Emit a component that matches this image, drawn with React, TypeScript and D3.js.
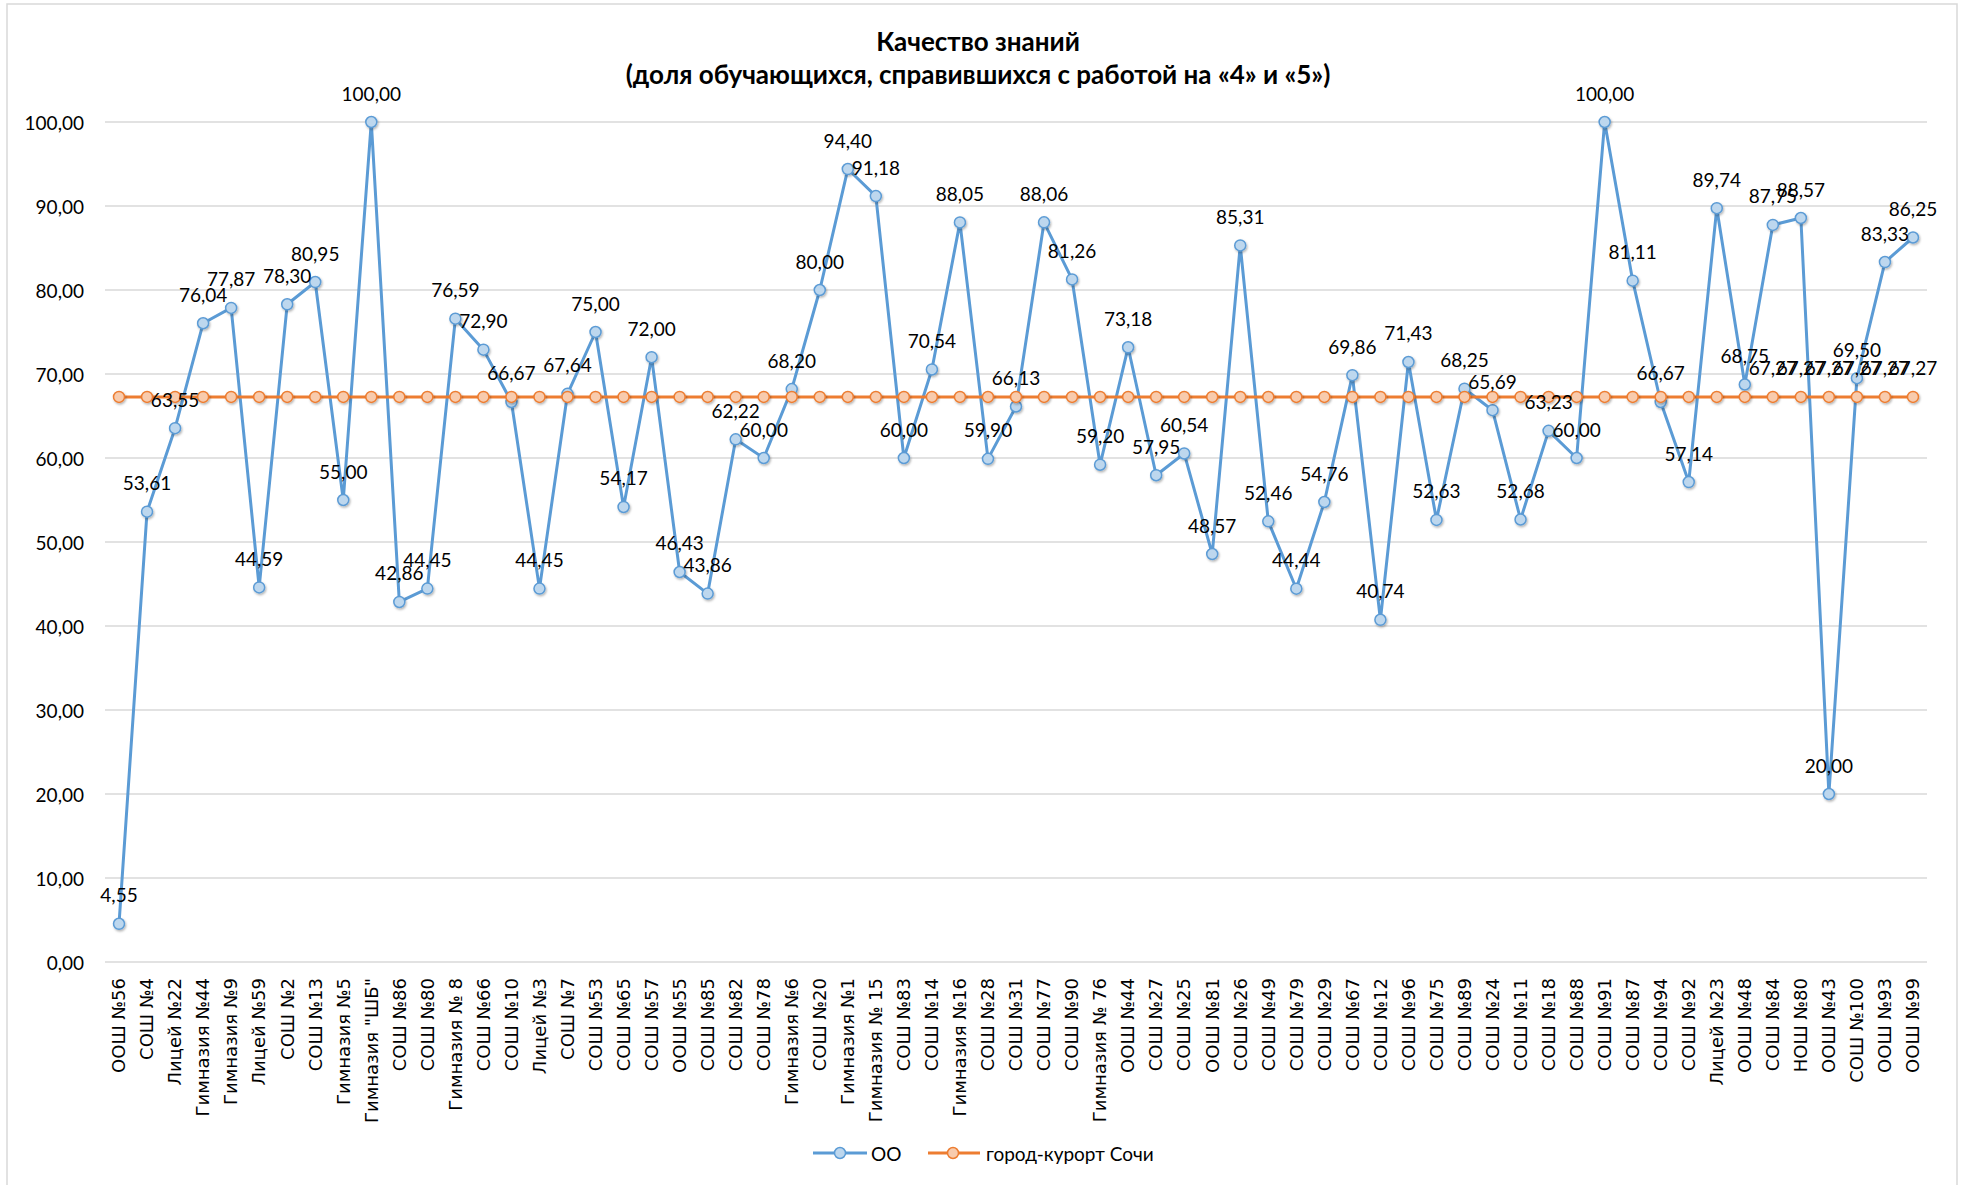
import React from "react";
import * as d3 from "d3";

const categories: string[] = [
  "ООШ №56", "СОШ №4", "Лицей №22", "Гимназия №44", "Гимназия №9", "Лицей №59", "СОШ №2", "СОШ №13",
  "Гимназия №5", "Гимназия \"ШБ\"", "СОШ №86", "СОШ №80", "Гимназия № 8", "СОШ №66", "СОШ №10", "Лицей №3",
  "СОШ №7", "СОШ №53", "СОШ №65", "СОШ №57", "ООШ №55", "СОШ №85", "СОШ №82", "СОШ №78",
  "Гимназия №6", "СОШ №20", "Гимназия №1", "Гимназия № 15", "СОШ №83", "СОШ №14", "Гимназия №16", "СОШ №28",
  "СОШ №31", "СОШ №77", "СОШ №90", "Гимназия № 76", "ООШ №44", "СОШ №27", "СОШ №25", "ООШ №81",
  "СОШ №26", "СОШ №49", "СОШ №79", "СОШ №29", "СОШ №67", "СОШ №12", "СОШ №96", "СОШ №75",
  "СОШ №89", "СОШ №24", "СОШ №11", "СОШ №18", "СОШ №88", "СОШ №91", "СОШ №87", "СОШ №94",
  "СОШ №92", "Лицей №23", "ООШ №48", "СОШ №84", "НОШ №80", "ООШ №43", "СОШ №100", "ООШ №93",
  "ООШ №99",
];

const ooValues: number[] = [
  4.55, 53.61, 63.55, 76.04, 77.87, 44.59, 78.3, 80.95,
  55.0, 100.0, 42.86, 44.45, 76.59, 72.9, 66.67, 44.45,
  67.64, 75.0, 54.17, 72.0, 46.43, 43.86, 62.22, 60.0,
  68.2, 80.0, 94.4, 91.18, 60.0, 70.54, 88.05, 59.9,
  66.13, 88.06, 81.26, 59.2, 73.18, 57.95, 60.54, 48.57,
  85.31, 52.46, 44.44, 54.76, 69.86, 40.74, 71.43, 52.63,
  68.25, 65.69, 52.68, 63.23, 60.0, 100.0, 81.11, 66.67,
  57.14, 89.74, 68.75, 87.75, 88.57, 20.0, 69.5, 83.33,
  86.25,
];

const cityValue = 67.27;
const cityValues: number[] = categories.map(() => cityValue);
// indices of the city series that carry a data label
const cityLabelIdx: number[] = [59, 60, 61, 62, 63, 64];

const yTicks: number[] = [0, 10, 20, 30, 40, 50, 60, 70, 80, 90, 100];

const titleLines: string[] = [
  "Качество знаний",
  "(доля обучающихся, справившихся с работой на «4» и «5»)",
];
const seriesNames: string[] = ["ОО", "город-курорт Сочи"];

const W = 1961;
const H = 1185;
const BLUE = "#5B9BD5";
const BLUE_FILL = "#BDD7EE";
const ORANGE = "#ED7D31";
const ORANGE_FILL = "#F8CBAD";
const GRID = "#D9D9D9";
const LABEL_FONT = "Lato, 'Open Sans', sans-serif";
const CAT_FONT = "'DejaVu Sans', sans-serif";
const LEG_Y = 1153;

const fmt = (v: number) => d3.format(".2f")(v).replace(".", ",");

export default function App() {
  const x = d3.scaleBand<string>().domain(categories).range([105, 1927]).padding(0);
  const cx = (i: number) => (x(categories[i]) as number) + x.bandwidth() / 2;
  const y = d3.scaleLinear().domain([0, 100]).range([962, 122]);

  const line = d3
    .line<number>()
    .x((_, i) => cx(i))
    .y((d) => y(d));

  return (
    <div style={{ position: "absolute", left: 0, top: 0 }}>
      <svg width={W} height={H} style={{ display: "block", background: "#fff" }}>
        <defs>
          <filter id="shadow" x="-50%" y="-50%" width="200%" height="200%">
            <feDropShadow dx="1" dy="1.5" stdDeviation="1" floodColor="#000" floodOpacity="0.3" />
          </filter>
        </defs>
        <rect x={7} y={4} width={1950} height={H + 10} fill="#fff" stroke={GRID} strokeWidth={1.5} />

        {/* title */}
        {titleLines.map((t, i) => (
          <text
            key={i}
            x={978}
            y={41 + i * 33}
            textAnchor="middle"
            dominantBaseline="central"
            fontFamily={LABEL_FONT}
            fontWeight="bold"
            fontSize={26}
            fill="#000"
          >
            {t}
          </text>
        ))}

        {/* grid */}
        {yTicks.map((t) => (
          <g key={t}>
            <line x1={105} x2={1927} y1={y(t)} y2={y(t)} stroke={GRID} strokeWidth={1.5} />
            <text
              x={84}
              y={y(t)}
              textAnchor="end"
              dominantBaseline="central"
              fontFamily={LABEL_FONT}
              fontSize={19}
              fill="#000"
            >
              {fmt(t)}
            </text>
          </g>
        ))}

        {/* category labels */}
        {categories.map((c, i) => (
          <text
            key={c + i}
            transform={`translate(${cx(i)},978) rotate(-90)`}
            textAnchor="end"
            dy="0.35em"
            fontFamily={CAT_FONT}
            fontSize={18}
            fill="#000"
          >
            {c}
          </text>
        ))}

        {/* OO series */}
        <path d={line(ooValues) || ""} fill="none" stroke={BLUE} strokeWidth={3} strokeLinejoin="round" />
        {ooValues.map((v, i) => (
          <circle key={i} cx={cx(i)} cy={y(v)} r={5.5} fill={BLUE_FILL} stroke={BLUE} strokeWidth={1.5} filter="url(#shadow)" />
        ))}

        {/* city series */}
        <path d={line(cityValues) || ""} fill="none" stroke={ORANGE} strokeWidth={3} strokeLinejoin="round" />
        {cityValues.map((v, i) => (
          <circle key={i} cx={cx(i)} cy={y(v)} r={5.5} fill={ORANGE_FILL} stroke={ORANGE} strokeWidth={1.5} filter="url(#shadow)" />
        ))}

        {/* data labels */}
        {ooValues.map((v, i) => (
          <text
            key={i}
            x={cx(i)}
            y={y(v) - 29}
            textAnchor="middle"
            dominantBaseline="central"
            fontFamily={LABEL_FONT}
            fontSize={19}
            fill="#000"
          >
            {fmt(v)}
          </text>
        ))}
        {cityLabelIdx.map((i) => (
          <text
            key={"c" + i}
            x={cx(i)}
            y={y(cityValues[i]) - 29}
            textAnchor="middle"
            dominantBaseline="central"
            fontFamily={LABEL_FONT}
            fontSize={19}
            fill="#000"
          >
            {fmt(cityValues[i])}
          </text>
        ))}

        {/* legend */}
        <g>
          <line x1={813} x2={867} y1={LEG_Y} y2={LEG_Y} stroke={BLUE} strokeWidth={3} />
          <circle cx={840} cy={LEG_Y} r={5.5} fill={BLUE_FILL} stroke={BLUE} strokeWidth={1.5} />
          <text x={871} y={LEG_Y} dominantBaseline="central" fontFamily={LABEL_FONT} fontSize={19} fill="#000">
            {seriesNames[0]}
          </text>
          <line x1={928} x2={980} y1={LEG_Y} y2={LEG_Y} stroke={ORANGE} strokeWidth={3} />
          <circle cx={953} cy={LEG_Y} r={5.5} fill={ORANGE_FILL} stroke={ORANGE} strokeWidth={1.5} />
          <text x={986} y={LEG_Y} dominantBaseline="central" fontFamily={LABEL_FONT} fontSize={19} fill="#000">
            {seriesNames[1]}
          </text>
        </g>
      </svg>
    </div>
  );
}
